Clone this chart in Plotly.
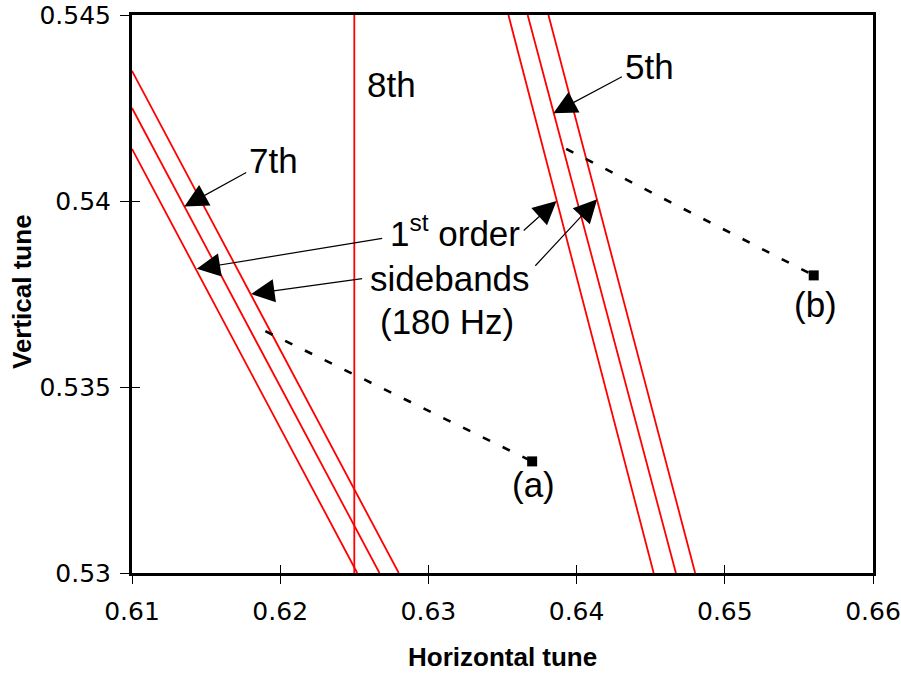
import plotly.graph_objects as go

# Resonance lines in the tune diagram: (Qx, Qy) end points
res7_qx = [0.6100, 0.6267]
res7_qy = [0.5425, 0.5300]
res7_hi_qx = [0.6100, 0.6280]
res7_hi_qy = [0.5435, 0.5300]
res7_lo_qx = [0.6100, 0.6252]
res7_lo_qy = [0.5414, 0.5300]

res8_qx = [0.6250, 0.6250]
res8_qy = [0.5300, 0.5450]

res5_qx = [0.6367, 0.6467]
res5_qy = [0.5450, 0.5300]
res5_lo_qx = [0.6354, 0.6452]
res5_lo_qy = [0.5450, 0.5300]
res5_hi_qx = [0.6381, 0.6480]
res5_hi_qy = [0.5450, 0.5300]

# Working points and the tune paths leading to them
wp_names = ["(a)", "(b)"]
wp_qx = [0.637, 0.656]
wp_qy = [0.533, 0.538]
path_a_qx = [0.6190, 0.6370]
path_a_qy = [0.5365, 0.5330]
path_b_qx = [0.6393, 0.6560]
path_b_qy = [0.5414, 0.5380]

x_ticks = [0.61, 0.62, 0.63, 0.64, 0.65, 0.66]
x_tick_text = ["0.61", "0.62", "0.63", "0.64", "0.65", "0.66"]
y_ticks = [0.53, 0.535, 0.54, 0.545]
y_tick_text = ["0.53", "0.535", "0.54", "0.545"]

RED = "#ff0000"
FONT = "Liberation Sans, Arial, sans-serif"
TICK_FONT = "DejaVu Sans, sans-serif"

fig = go.Figure()

for qx, qy in [(res7_hi_qx, res7_hi_qy), (res7_qx, res7_qy), (res7_lo_qx, res7_lo_qy),
               (res8_qx, res8_qy),
               (res5_lo_qx, res5_lo_qy), (res5_qx, res5_qy), (res5_hi_qx, res5_hi_qy)]:
    fig.add_trace(go.Scatter(x=qx, y=qy, mode="lines",
                             line=dict(color=RED, width=1.8),
                             showlegend=False, hoverinfo="skip"))

for qx, qy in [(path_a_qx, path_a_qy), (path_b_qx, path_b_qy)]:
    fig.add_trace(go.Scatter(x=qx, y=qy, mode="lines",
                             line=dict(color="black", width=2.6, dash="8px,14px"),
                             showlegend=False, hoverinfo="skip"))

fig.add_trace(go.Scatter(x=wp_qx, y=wp_qy, mode="markers",
                         marker=dict(symbol="square", size=10, color="black"),
                         showlegend=False, hoverinfo="skip"))

# empty trace that carries the inner tick axes
fig.add_trace(go.Scatter(x=[], y=[], xaxis="x2", yaxis="y2", showlegend=False))

# text labels
labels = [
    ("8th", 0.6275, 0.54312),
    ("7th", 0.61956, 0.5411),
    ("5th", 0.64493, 0.54362),
    ("1<sup>st</sup> order", 0.63182, 0.53919),
    ("sidebands", 0.63149, 0.53792),
    ("(180 Hz)", 0.63125, 0.53677),
    (wp_names[0], 0.63709, 0.53238),
    (wp_names[1], 0.65615, 0.53722),
]
for txt, lx, ly in labels:
    fig.add_annotation(x=lx, y=ly, xref="x", yref="y", text=txt, showarrow=False,
                       xanchor="center", yanchor="middle",
                       font=dict(family=FONT, size=35, color="black"))

# arrows: (tip Qx, tip Qy, tail Qx, tail Qy)
arrows = [
    (0.61353, 0.53985, 0.61781, 0.54079),
    (0.63843, 0.54236, 0.64316, 0.54336),
    (0.61437, 0.53818, 0.62698, 0.53900),
    (0.61804, 0.53750, 0.62563, 0.53792),
    (0.63865, 0.54000, 0.63633, 0.53917),
    (0.64139, 0.54005, 0.63712, 0.53822),
]
for tx, ty, sx, sy in arrows:
    fig.add_annotation(x=tx, y=ty, ax=sx, ay=sy, xref="x", yref="y",
                       axref="x", ayref="y", text="", showarrow=True,
                       arrowhead=2, arrowsize=3.9, arrowwidth=1.2,
                       arrowcolor="black")

# axis titles
fig.add_annotation(x=0.5, y=-0.1505, xref="paper", yref="paper",
                   text="<b>Horizontal tune</b>", showarrow=False,
                   xanchor="center", yanchor="middle",
                   font=dict(family=FONT, size=26, color="black"))
fig.add_annotation(x=-0.1484, y=0.5036, xref="paper", yref="paper",
                   text="<b>Vertical tune</b>", showarrow=False, textangle=-90,
                   xanchor="center", yanchor="middle",
                   font=dict(family=FONT, size=26, color="black"))

fig.update_layout(
    width=901, height=673,
    margin=dict(l=132, r=28, t=15, b=100, autoexpand=False),
    paper_bgcolor="white", plot_bgcolor="white",
    showlegend=False,
    xaxis=dict(range=[0.61, 0.66], tickvals=x_ticks, ticktext=x_tick_text,
               automargin=False,
               showgrid=False, zeroline=False, showline=True, linewidth=3,
               linecolor="black", mirror=True, ticks="outside", ticklen=8,
               tickwidth=1, tickcolor="black", ticklabelstandoff=6,
               tickfont=dict(family=TICK_FONT, size=25, color="black")),
    yaxis=dict(range=[0.53, 0.545], tickvals=y_ticks, ticktext=y_tick_text,
               automargin=False,
               showgrid=False, zeroline=False, showline=True, linewidth=3,
               linecolor="black", mirror=True, ticks="outside", ticklen=9,
               tickwidth=1, tickcolor="black", ticklabelstandoff=4,
               tickfont=dict(family=TICK_FONT, size=25, color="black")),
    xaxis2=dict(overlaying="x", matches="x", anchor="y2", side="bottom",
                automargin=False,
                tickvals=x_ticks, ticks="inside", ticklen=8, tickwidth=1,
                tickcolor="black", showticklabels=False, showgrid=False,
                zeroline=False, showline=False),
    yaxis2=dict(overlaying="y", matches="y", anchor="x2", side="left",
                automargin=False,
                tickvals=y_ticks, ticks="inside", ticklen=8, tickwidth=1,
                tickcolor="black", showticklabels=False, showgrid=False,
                zeroline=False, showline=False),
)

fig.write_html("out.html")
